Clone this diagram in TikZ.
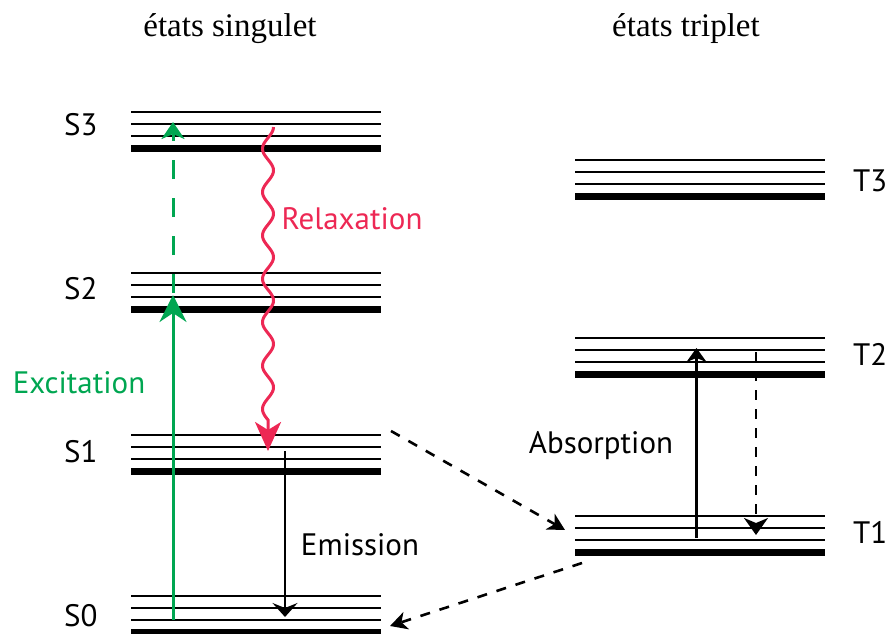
\documentclass[tikz,border=0pt]{standalone}
\usepackage{fontspec}
\setmainfont{Liberation Serif}
\newfontfamily\lblfont{PT Sans}
\usetikzlibrary{arrows.meta}
\definecolor{exgreen}{RGB}{0,166,81}
\definecolor{relred}{RGB}{237,40,84}
\begin{document}
\begin{tikzpicture}[x=1pt,y=-1pt,
  thinlvl/.style={line width=2.5pt},
  thicklvl/.style={line width=7pt},
  lbltext/.style={font=\lblfont\fontsize{31}{36}\selectfont, inner sep=0pt, anchor=base},
  lvllbl/.style={lbltext, anchor=base west},
  titletext/.style={font=\fontsize{33}{38}\selectfont, inner sep=0pt, anchor=base},
  blackarrow/.style={line width=2.3pt},
  dashedarrow/.style={line width=2.6pt, dash pattern=on 10pt off 10pt}]
\useasboundingbox (0,0) rectangle (889,634);

% titles
\node[titletext] (tsing) at (230,37) {états singulet};
\node[titletext] (ttrip) at (686,37) {états triplet};

% energy levels
\foreach \nm/\x/\y in {S3/131/112, S2/131/273, S1/131/435, S0/131/596, T3/575/160, T2/575/338, T1/575/516} {
  \draw[thinlvl] (\x,\y) -- ++(249.5,0);
  \draw[thinlvl] (\x,\y+12) -- ++(249.5,0);
  \draw[thinlvl] (\x,\y+24) -- ++(249.5,0);
  \draw[thicklvl] (\x,\y+36) -- ++(249.5,0);
}

% level labels
\node[lvllbl] (lS3) at (64,135.5) {S3};
\node[lvllbl] (lS2) at (64,299.5) {S2};
\node[lvllbl] (lS1) at (64,462.5) {S1};
\node[lvllbl] (lS0) at (64,626) {S0};
\node[lvllbl] (lT3) at (853,191.5) {T3};
\node[lvllbl] (lT2) at (853,365.5) {T2};
\node[lvllbl] (lT1) at (853,543.5) {T1};

% process labels
\node[lbltext, text=exgreen] (lex) at (79,393.5) {Excitation};
\node[lbltext, text=relred] (lrel) at (352,229.5) {Relaxation};
\node[lbltext] (labs) at (601,453.5) {Absorption};
\node[lbltext] (lem) at (360,555.5) {Emission};

% coordinates
\coordinate (exA) at (173,620);
\coordinate (exB) at (173,295);
\coordinate (exB2) at (173,293);
\coordinate (exC) at (173,122);
\coordinate (relB) at (268,451);
\coordinate (emA) at (285,451);
\coordinate (emB) at (285,617);
\coordinate (abA) at (696.5,538);
\coordinate (abB) at (696.5,348);
\coordinate (tdA) at (756,352);
\coordinate (tdB) at (756,535);
\coordinate (iscA) at (391,431);
\coordinate (iscB) at (565,530);
\coordinate (phA) at (582,563);
\coordinate (phB) at (390,626);

% excitation
\draw[exgreen, line width=3pt, -{Stealth[length=27pt,width=27pt,inset=9pt]}] (exA) -- (exB);
\draw[exgreen, line width=3pt, dash pattern=on 19pt off 19pt, -{Stealth[length=17pt,width=23pt,inset=5pt]}] (exB2) -- (exC);

% relaxation (wavy)
\draw[relred, line width=3pt, -{Stealth[length=29pt,width=26pt,inset=8pt]}]
  plot[domain=127:420, samples=240, variable=\t] ({268+5.5*cos((\t-127)*8.2949)}, \t) -- (relB);

% emission
\draw[blackarrow, -{Stealth[length=14pt,width=25pt,inset=5pt]}] (emA) -- (emB);

% absorption T1 -> T2
\draw[blackarrow, -{Stealth[length=14pt,width=20pt,inset=4pt]}] (abA) -- (abB);
% T2 -> T1 dashed
\draw[blackarrow, dash pattern=on 10pt off 9pt, -{Stealth[length=17pt,width=24pt,inset=5pt]}] (tdA) -- (tdB);

% intersystem crossing S1 -> T1
\draw[dashedarrow, -{Stealth[length=17pt,width=18pt,inset=5pt]}] (iscA) -- (iscB);
% T1 -> S0
\draw[dashedarrow, -{Stealth[length=17pt,width=18pt,inset=5pt]}] (phA) -- (phB);
\end{tikzpicture}
\end{document}
